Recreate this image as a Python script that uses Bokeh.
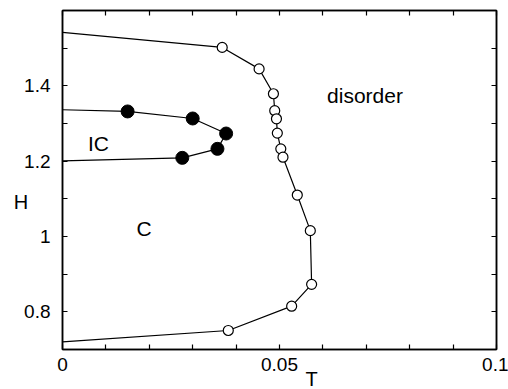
from bokeh.plotting import figure
from bokeh.models import FixedTicker, LinearAxis, PrintfTickFormatter, Range1d, CustomJSTickFormatter, Title
from bokeh.embed import file_html
from bokeh.resources import INLINE
from bokeh.core.properties import value

# Outer phase boundary (open circles), T vs H
outer_T = [0.0368, 0.0453, 0.0486, 0.0489, 0.0493, 0.0495, 0.0503, 0.0508,
           0.0541, 0.0571, 0.0574, 0.0528, 0.0382]
outer_H = [1.502, 1.445, 1.379, 1.334, 1.3125, 1.2745, 1.2327, 1.2106,
           1.110, 1.0155, 0.873, 0.815, 0.7505]
outer_start_H = 1.542   # line end at T = 0 (top)
outer_end_H = 0.720     # line end at T = 0 (bottom)

# IC pocket boundary (filled circles)
ic_T = [0.0150, 0.0300, 0.0377, 0.0357, 0.0276]
ic_H = [1.332, 1.3133, 1.2734, 1.2327, 1.2088]
ic_start_H = 1.3365
ic_end_H = 1.2008

# Region labels
region_text = ["disorder", "IC", "C"]
region_T = [0.0697, 0.0083, 0.0188]
region_H = [1.374, 1.247, 1.020]

x_major_ticks = [0.0, 0.05, 0.1]
x_minor_ticks = [0.01, 0.02, 0.03, 0.04, 0.06, 0.07, 0.08, 0.09]
y_major_ticks = [0.8, 1.0, 1.2, 1.4]
y_minor_ticks = [0.7, 0.9, 1.1, 1.3, 1.5, 1.6]

FONT = "Liberation Sans"

p = figure(width=508, height=389, x_range=Range1d(0, 0.1), y_range=Range1d(0.7, 1.6),
           output_backend="svg", toolbar_location=None,
           min_border_left=62, min_border_right=12, min_border_top=10, min_border_bottom=40)
p.grid.grid_line_color = None
p.outline_line_color = "black"
p.outline_line_width = 1.5
p.background_fill_color = "white"
p.border_fill_color = "white"

xt = FixedTicker(ticks=x_major_ticks, minor_ticks=x_minor_ticks)
yt = FixedTicker(ticks=y_major_ticks, minor_ticks=y_minor_ticks)
fmt = PrintfTickFormatter(format="%g")
blank = CustomJSTickFormatter(code="return '';")


def style(ax, labels=True, standoff=5):
    ax.axis_line_color = "black"
    ax.axis_line_width = 1.5
    ax.major_tick_in = 5
    ax.major_tick_out = 0
    ax.minor_tick_in = 5
    ax.minor_tick_out = 0
    ax.major_tick_line_width = 1.2
    ax.minor_tick_line_width = 1.2
    ax.major_tick_line_color = "black"
    ax.minor_tick_line_color = "black"
    if labels:
        ax.formatter = fmt
        ax.major_label_text_font = FONT
        ax.major_label_text_font_size = "19px"
        ax.major_label_text_color = "black"
        ax.major_label_standoff = standoff
    else:
        ax.formatter = blank
        ax.major_label_text_font_size = "1px"
        ax.major_label_standoff = 0


p.xaxis[0].ticker = xt
p.yaxis[0].ticker = yt
style(p.xaxis[0], True, 8)
style(p.yaxis[0], True, 12)

# axis name H: horizontal, a little below the middle of the axis
ya = p.yaxis[0]
ya.axis_label = "\nH"
ya.axis_label_orientation = "horizontal"
ya.axis_label_standoff = -7
ya.axis_label_text_font = FONT
ya.axis_label_text_font_size = "20px"
ya.axis_label_text_font_style = "normal"
ya.axis_label_text_color = "black"
ya.axis_label_text_line_height = 2.0

top = LinearAxis(ticker=xt)
style(top, False)
p.add_layout(top, "above")
right = LinearAxis(ticker=yt)
style(right, False)
p.add_layout(right, "right")

# lines
p.line([0.0] + outer_T + [0.0], [outer_start_H] + outer_H + [outer_end_H],
       line_color="black", line_width=1.2)
p.line([0.0] + ic_T + [0.0], [ic_start_H] + ic_H + [ic_end_H],
       line_color="black", line_width=1.2)

# markers
p.scatter(outer_T, outer_H, marker="circle", size=10, fill_color="white",
          line_color="black", line_width=1.2)
p.scatter(ic_T, ic_H, marker="circle", size=13, fill_color="black",
          line_color="black")

p.text(region_T, region_H, text=region_text, text_font=value(FONT),
       text_font_size="21px", text_align="center", text_baseline="middle",
       text_color="black")

# axis name T (below the tick labels, offset to the right)
p.add_layout(Title(text="T", align="left", offset=243, standoff=-16,
                   text_font=FONT, text_font_size="20px", text_font_style="normal",
                   text_color="black"), "below")

open("out.html", "w").write(file_html(p, INLINE))
